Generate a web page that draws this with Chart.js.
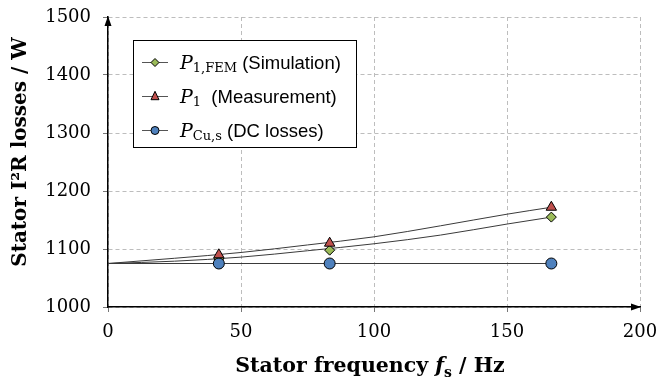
<!DOCTYPE html>
<html>
<head>
<meta charset="utf-8">
<script src="https://cdn.jsdelivr.net/npm/chart.js@4/dist/chart.umd.min.js"></script>
<style>
  html, body { margin: 0; padding: 0; background: #fff; }
  #wrap { width: 660px; height: 381px; }
</style>
</head>
<body>
<div id="wrap"><canvas id="c" width="660" height="381"></canvas></div>
<script>
// Stator frequencies of the operating points (Hz)
const freqs = [41.67, 83.33, 166.67];
// Stator I²R losses at those points (W)
const simLosses = [1083, 1098, 1155];   // P1,FEM (Simulation)
const measLosses = [1090, 1110, 1172];  // P1 (Measurement)
const dcLosses = [1075, 1075, 1075];    // PCu,s (DC losses)

// Trend curves through the points, sampled along the frequency axis
const fitFreqs = [0, 25, 50, 75, 100, 125, 150, 166.67];
const simFit = [1075, 1079, 1086, 1097, 1109, 1124, 1143, 1155];
const measFit = [1075, 1084, 1094, 1107, 1121, 1140, 1160, 1172];
const dcFitFreqs = [0, 166.67];
const dcFit = [1075, 1075];

// Axis ticks
const xTicks = [0, 50, 100, 150, 200];
const yTicks = [1000, 1100, 1200, 1300, 1400, 1500];

const GREEN = '#9BBB59', RED = '#C0504D', BLUE = '#4F81BD';
const SERIF = '"DejaVu Serif", serif';

const pts = (xs, ys) => xs.map((x, i) => ({ x, y: ys[i] }));

const fitStyle = {
  type: 'line', showLine: true, pointRadius: 0, borderColor: '#3a3a3a',
  borderWidth: 1, cubicInterpolationMode: 'monotone', fill: false, order: 2
};

const decorations = {
  id: 'decorations',
  afterDraw(chart) {
    const ctx = chart.ctx;
    const a = chart.chartArea;
    ctx.save();

    // axis arrowheads
    ctx.fillStyle = '#000';
    ctx.beginPath();
    ctx.moveTo(a.left, a.top - 1);
    ctx.lineTo(a.left - 3.5, a.top + 9);
    ctx.lineTo(a.left + 3.5, a.top + 9);
    ctx.closePath();
    ctx.fill();
    ctx.beginPath();
    ctx.moveTo(a.right + 1, a.bottom);
    ctx.lineTo(a.right - 9, a.bottom - 3.5);
    ctx.lineTo(a.right - 9, a.bottom + 3.5);
    ctx.closePath();
    ctx.fill();

    // y axis title
    ctx.fillStyle = '#000';
    ctx.save();
    ctx.translate(26, 152);
    ctx.rotate(-Math.PI / 2);
    ctx.font = 'bold 20px ' + SERIF;
    ctx.textAlign = 'center';
    ctx.textBaseline = 'alphabetic';
    ctx.fillText('Stator I²R losses / W', 0, 0);
    ctx.restore();

    // x axis title with italic f and subscript s
    const parts = [
      { t: 'Stator frequency ', f: 'bold 20.5px ' + SERIF, dy: 0 },
      { t: 'f', f: 'italic bold 20.5px ' + SERIF, dy: 0 },
      { t: 's', f: 'bold 14px ' + SERIF, dy: 5 },
      { t: ' / Hz', f: 'bold 20.5px ' + SERIF, dy: 0 }
    ];
    let w = 0;
    parts.forEach(p => { ctx.font = p.f; p.w = ctx.measureText(p.t).width; w += p.w; });
    let x = 370 - w / 2;
    ctx.textAlign = 'left';
    parts.forEach(p => { ctx.font = p.f; ctx.fillText(p.t, x, 372 + p.dy); x += p.w; });

    // legend
    const bx = 133, by = 40, bw = 223, bh = 107;
    ctx.fillStyle = '#fff';
    ctx.fillRect(bx, by, bw, bh);
    ctx.strokeStyle = '#000';
    ctx.lineWidth = 1;
    ctx.strokeRect(bx + 0.5, by + 0.5, bw, bh);

    const rows = [
      { y: 62, shape: 'diamond', color: GREEN, sub: '1,FEM', text: ' (Simulation)' },
      { y: 96, shape: 'triangle', color: RED, sub: '1', text: '  (Measurement)' },
      { y: 130, shape: 'circle', color: BLUE, sub: 'Cu,s', text: ' (DC losses)' }
    ];
    rows.forEach(r => {
      ctx.strokeStyle = '#555';
      ctx.lineWidth = 1;
      ctx.beginPath();
      ctx.moveTo(142, r.y + 0.5);
      ctx.lineTo(168, r.y + 0.5);
      ctx.stroke();
      drawMarker(ctx, r.shape, 155, r.y + 0.5, 4, r.color);

      ctx.fillStyle = '#000';
      let tx = 180;
      ctx.font = 'italic 19px ' + SERIF;
      ctx.fillText('P', tx, r.y + 7);
      tx += ctx.measureText('P').width;
      ctx.font = '13px ' + SERIF;
      ctx.fillText(r.sub, tx, r.y + 10);
      tx += ctx.measureText(r.sub).width;
      ctx.font = '18.5px "Liberation Sans", Arial, sans-serif';
      ctx.fillText(r.text, tx, r.y + 7);
    });
    ctx.restore();
  }
};

function drawMarker(ctx, shape, x, y, r, color) {
  ctx.save();
  ctx.fillStyle = color;
  ctx.strokeStyle = '#000';
  ctx.lineWidth = 1;
  ctx.beginPath();
  if (shape === 'circle') {
    ctx.arc(x, y, r, 0, Math.PI * 2);
  } else if (shape === 'diamond') {
    ctx.moveTo(x, y - r); ctx.lineTo(x + r, y); ctx.lineTo(x, y + r); ctx.lineTo(x - r, y); ctx.closePath();
  } else {
    ctx.moveTo(x, y - r * 1.3); ctx.lineTo(x + r, y + r * 0.8); ctx.lineTo(x - r, y + r * 0.8); ctx.closePath();
  }
  ctx.fill();
  ctx.stroke();
  ctx.restore();
}

new Chart(document.getElementById('c'), {
  type: 'scatter',
  data: {
    datasets: [
      Object.assign({ label: 'sim fit', data: pts(fitFreqs, simFit) }, fitStyle),
      Object.assign({ label: 'meas fit', data: pts(fitFreqs, measFit) }, fitStyle),
      Object.assign({ label: 'dc fit', data: pts(dcFitFreqs, dcFit) }, fitStyle),
      { label: 'PCu,s (DC losses)', data: pts(freqs, dcLosses), pointStyle: 'circle',
        pointRadius: 5.5, backgroundColor: BLUE, borderColor: '#000', borderWidth: 1, order: 1 },
      { label: 'P1,FEM (Simulation)', data: pts(freqs, simLosses), pointStyle: 'rectRot',
        pointRadius: 5, backgroundColor: GREEN, borderColor: '#000', borderWidth: 1, order: 1 },
      { label: 'P1 (Measurement)', data: pts(freqs, measLosses), pointStyle: 'triangle',
        pointRadius: 6, backgroundColor: RED, borderColor: '#000', borderWidth: 1, order: 0 }
    ]
  },
  options: {
    responsive: false,
    animation: false,
    devicePixelRatio: 1,
    layout: { padding: { top: 17, right: 20, left: 0, bottom: 0 } },
    plugins: { legend: { display: false }, tooltip: { enabled: false } },
    scales: {
      x: {
        type: 'linear', min: 0, max: 200,
        afterBuildTicks: s => { s.ticks = xTicks.map(v => ({ value: v })); },
        afterFit: s => { s.height = 74; s.paddingLeft = 0; s.paddingRight = 0; },
        ticks: { font: { family: SERIF, size: 18 }, color: '#000', padding: 10, maxRotation: 0,
                 callback: v => String(v) },
        grid: { color: '#bdbdbd', lineWidth: 1, tickLength: 5, tickColor: '#777', tickBorderDash: [] },
        border: { color: '#000', width: 1.5, dash: [4, 3] }
      },
      y: {
        type: 'linear', min: 1000, max: 1500,
        afterBuildTicks: s => { s.ticks = yTicks.map(v => ({ value: v })); },
        afterFit: s => { s.width = 108; s.paddingTop = 0; s.paddingBottom = 0; },
        ticks: { font: { family: SERIF, size: 18 }, color: '#000', padding: 12,
                 callback: v => String(v) },
        grid: { color: '#bdbdbd', lineWidth: 1, tickLength: 5, tickColor: '#777', tickBorderDash: [] },
        border: { color: '#000', width: 1.5, dash: [4, 3] }
      }
    }
  },
  plugins: [decorations]
});
</script>
</body>
</html>
